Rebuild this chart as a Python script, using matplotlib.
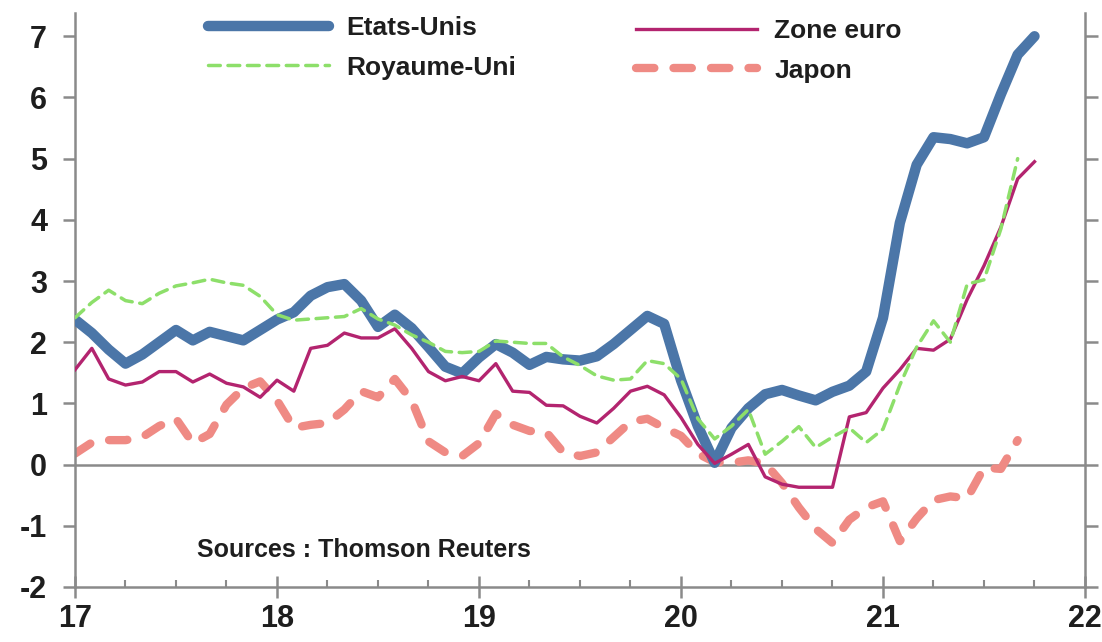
import numpy as np
import matplotlib
matplotlib.use("Agg")
import matplotlib.pyplot as plt

plt.rcParams['font.family'] = ['Liberation Sans', 'DejaVu Sans']
plt.rcParams['font.weight'] = 'bold'
plt.rcParams['axes.unicode_minus'] = False

# monthly inflation, % y/y, from Jan 2017
us = [2.37, 2.15, 1.88, 1.65, 1.8, 2.0, 2.2, 2.03, 2.17, 2.1, 2.03, 2.2,
      2.37, 2.49, 2.76, 2.9, 2.95, 2.68, 2.25, 2.45, 2.23, 1.92, 1.6, 1.49,
      1.75, 1.97, 1.83, 1.63, 1.76, 1.72, 1.7, 1.77, 1.97, 2.2, 2.43, 2.3,
      1.38, 0.63, 0.03, 0.6, 0.92, 1.15, 1.22, 1.13, 1.05, 1.19, 1.29, 1.52,
      2.4, 3.95, 4.9, 5.35, 5.32, 5.25, 5.35, 6.05, 6.7, 7.0]
ez = [1.55, 1.9, 1.4, 1.3, 1.35, 1.52, 1.52, 1.35, 1.48, 1.33, 1.27, 1.1,
      1.38, 1.2, 1.9, 1.95, 2.15, 2.07, 2.07, 2.22, 1.9, 1.52, 1.37, 1.44,
      1.37, 1.65, 1.2, 1.18, 0.97, 0.96, 0.79, 0.68, 0.92, 1.2, 1.28, 1.14,
      0.77, 0.33, 0.02, 0.17, 0.33, -0.2, -0.32, -0.37, -0.37, -0.37, 0.78, 0.85,
      1.25, 1.55, 1.9, 1.87, 2.05, 2.7, 3.25, 3.88, 4.67, 4.95]
uk = [2.4, 2.65, 2.85, 2.68, 2.63, 2.8, 2.92, 2.97, 3.03, 2.97, 2.93, 2.75,
      2.45, 2.36, 2.38, 2.4, 2.42, 2.55, 2.38, 2.28, 2.12, 2.0, 1.85, 1.83,
      1.85, 2.02, 2.0, 1.98, 1.98, 1.76, 1.62, 1.45, 1.38, 1.4, 1.7, 1.65,
      1.4, 0.75, 0.42, 0.63, 0.9, 0.17, 0.38, 0.62, 0.28, 0.45, 0.6, 0.36,
      0.58, 1.3, 1.92, 2.35, 2.0, 2.95, 3.02, 3.85, 5.0]
jp = [0.18, 0.36, 0.4, 0.4, 0.45, 0.63, 0.75, 0.35, 0.5, 0.98, 1.25, 1.36,
      1.05, 0.6, 0.65, 0.68, 0.9, 1.2, 1.1, 1.4, 1.05, 0.38, 0.2, 0.14,
      0.35, 0.83, 0.65, 0.55, 0.53, 0.2, 0.14, 0.2, 0.45, 0.7, 0.75, 0.6,
      0.47, 0.18, 0.04, 0.03, 0.07, 0.02, -0.3, -0.7, -1.05, -1.28, -0.9, -0.7,
      -0.6, -1.25, -0.88, -0.58, -0.52, -0.55, -0.05, -0.07, 0.4]

labels = ['Etats-Unis', 'Royaume-Uni', 'Zone euro', 'Japon']
years = [17, 18, 19, 20, 21, 22]

def xs(vals):
    return 17 + np.arange(len(vals)) / 12

grey = '#8a8a8a'
txt = '#1e1e1e'

fig = plt.figure(figsize=(11.02, 6.42), dpi=100)
ax = fig.add_axes([75/1102, 55/642, 1010/1102, 574/642])

ax.axhline(0, color=grey, lw=1.8, zorder=1)

h_jp, = ax.plot(xs(jp), jp, color='#ef8a84', lw=6, dashes=(2.2, 2.3),
                dash_capstyle='round', solid_joinstyle='round', zorder=2)
h_us, = ax.plot(xs(us), us, color='#4b76a8', lw=7.5, solid_joinstyle='round',
                solid_capstyle='round', zorder=3)
h_ez, = ax.plot(xs(ez), ez, color='#b3246f', lw=2.4, solid_joinstyle='round', zorder=4)
h_uk, = ax.plot(xs(uk), uk, color='#8ddf6a', lw=2.5, dashes=(3.4, 2.2),
                dash_capstyle='round', zorder=5)

ax.set_xlim(17, 22)
ax.set_ylim(-2, 7.38)
ax.set_xticks(years)
ax.set_xticks(np.arange(17, 22.01, 0.25), minor=True)
ax.set_yticks(range(-2, 8))

for s in ['left', 'right', 'bottom']:
    ax.spines[s].set_color(grey)
    ax.spines[s].set_linewidth(1.8)
ax.spines['top'].set_visible(False)

ax.tick_params(axis='y', which='major', direction='out', length=9, width=1.8,
               color=grey, left=True, right=True, labelright=False,
               labelsize=22, pad=11, labelcolor=txt)
ax.tick_params(axis='x', which='major', direction='inout', length=16, width=1.8,
               color=grey, labelsize=22, pad=4, labelcolor=txt)
ax.tick_params(axis='x', which='minor', direction='in', length=5, width=1.5, color=grey)

leg_kw = dict(loc='upper left', frameon=False, fontsize=19, handlelength=4.6,
              handletextpad=0.65, labelspacing=0.6, borderpad=0, borderaxespad=0)
leg1 = ax.legend([h_us, h_uk], labels[:2], bbox_to_anchor=(0.1317, 0.995), **leg_kw)
ax.add_artist(leg1)
leg2 = ax.legend([h_ez, h_jp], labels[2:], bbox_to_anchor=(0.555, 0.99), **leg_kw)
for leg in (leg1, leg2):
    for t in leg.get_texts():
        t.set_color(txt)

ax.text(17.605, -1.4, 'Sources : Thomson Reuters', fontsize=18, color=txt,
        va='center', ha='left')

fig.savefig('out.png', dpi=100)
